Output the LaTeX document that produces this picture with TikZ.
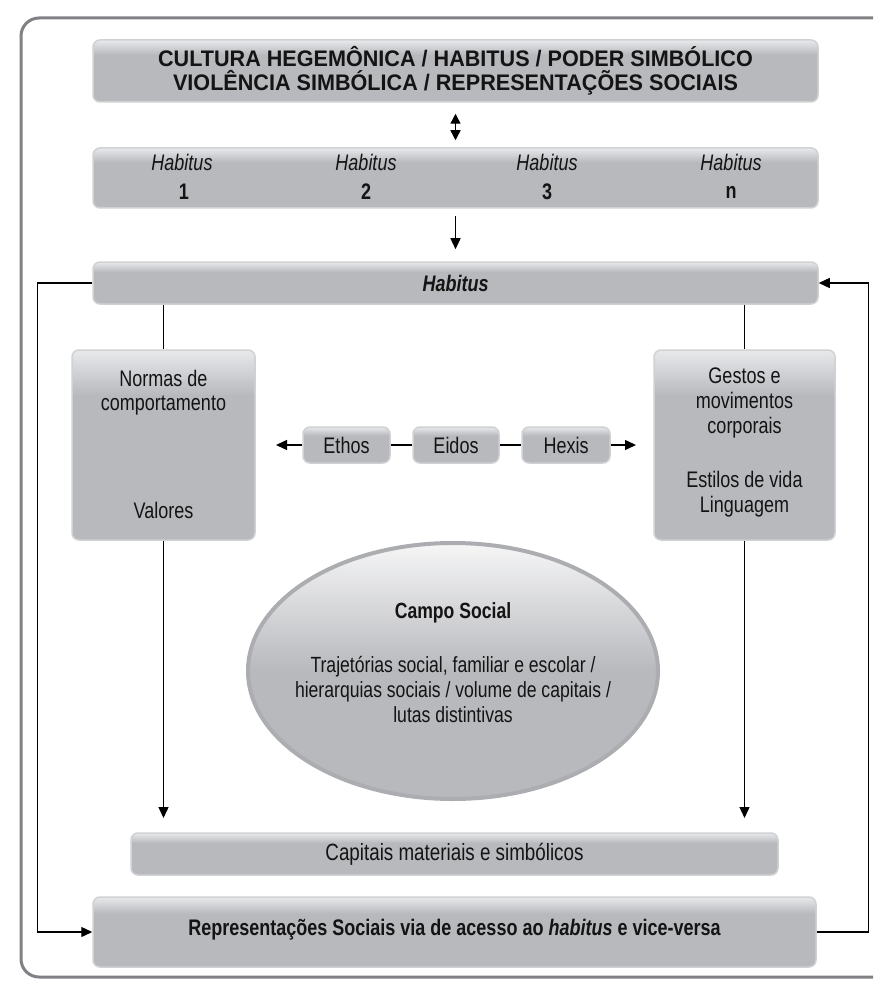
\documentclass[tikz,border=0pt]{standalone}
\usepackage{fontspec}
\setmainfont{Liberation Sans}[FakeStretch=0.8]
\newfontfamily\capsfont{Liberation Sans}[FakeStretch=0.96]
\usetikzlibrary{arrows.meta,shapes.geometric}
\definecolor{boxgray}{RGB}{184,185,189}
\definecolor{boxtop}{RGB}{232,233,235}
\definecolor{boxline}{RGB}{208,209,211}
\definecolor{framegray}{RGB}{128,129,133}
\definecolor{ellline}{RGB}{172,173,177}
\definecolor{elltop}{RGB}{246,246,247}
\definecolor{txt}{RGB}{20,20,20}
\pgfdeclareverticalshading{boxshade}{100bp}{color(0bp)=(boxgray); color(25bp)=(boxgray); color(63bp)=(boxgray); color(75bp)=(boxtop); color(100bp)=(boxtop)}
\pgfdeclareverticalshading{ellshade}{100bp}{color(0bp)=(boxgray); color(25bp)=(boxgray); color(50bp)=(boxgray); color(75bp)=(elltop); color(100bp)=(elltop)}
\begin{document}
\begin{tikzpicture}[x=1pt,y=-1pt,
  box/.style={draw=boxline, line width=1.5pt, rounded corners=7pt, shading=boxshade, inner sep=0pt},
  lbl/.style={text=txt, align=center, inner sep=0pt, font=\fontsize{22.5}{24}\selectfont},
  arr/.style={line width=1.4pt, -{Triangle[length=11pt,width=10pt]}},
  dbl/.style={line width=1.4pt, {Triangle[length=10pt,width=10pt]}-{Triangle[length=10pt,width=10pt]}},
  ln/.style={line width=1.2pt}]
\clip (0,0) rectangle (873,984);
\fill[white] (0,0) rectangle (873,984);
\draw[framegray, line width=3pt, rounded corners=18pt] (21,18) rectangle (920,977);

% boxes
\node[box, minimum width=725pt, minimum height=62pt] (top) at (455.5,71) {};
\node[lbl, font=\capsfont\bfseries\fontsize{22.5}{24}\selectfont] (toptxt) at (455.5,71) {CULTURA HEGEMÔNICA / HABITUS / PODER SIMBÓLICO\\VIOLÊNCIA SIMBÓLICA / REPRESENTAÇÕES SOCIAIS};

\node[box, minimum width=725pt, minimum height=60pt] (row) at (455.5,178) {};
\node[lbl, font=\itshape\fontsize{22.5}{24}\selectfont] (h1) at (182,162) {Habitus};
\node[lbl, font=\itshape\fontsize{22.5}{24}\selectfont] (h2) at (366,162) {Habitus};
\node[lbl, font=\itshape\fontsize{22.5}{24}\selectfont] (h3) at (547,162) {Habitus};
\node[lbl, font=\itshape\fontsize{22.5}{24}\selectfont] (h4) at (731,162) {Habitus};
\node[lbl, font=\bfseries\fontsize{22.5}{24}\selectfont] (n1) at (184,192) {1};
\node[lbl, font=\bfseries\fontsize{22.5}{24}\selectfont] (n2) at (366,192) {2};
\node[lbl, font=\bfseries\fontsize{22.5}{24}\selectfont] (n3) at (547,192) {3};
\node[lbl, font=\bfseries\fontsize{22.5}{24}\selectfont] (n4) at (731,192) {n};

\node[box, minimum width=725pt, minimum height=42pt] (hab) at (455.5,283) {};
\node[lbl, font=\bfseries\itshape\fontsize{22.5}{24}\selectfont] (habtxt) at (455.5,283) {Habitus};

\node[box, minimum width=183pt, minimum height=190pt] (left) at (163.5,445) {};
\node[lbl] (normas) at (163.5,393) {Normas de\\comportamento};
\node[lbl] (valores) at (163.5,510) {Valores};

\node[box, minimum width=181pt, minimum height=190pt] (right) at (744.5,445) {};
\node[lbl, font=\fontsize{22.5}{25}\selectfont] (gestos) at (744.5,403) {Gestos e\\movimentos\\corporais};
\node[lbl, font=\fontsize{22.5}{25}\selectfont] (estilos) at (744.5,494) {Estilos de vida\\Linguagem};

\node[box, minimum width=87pt, minimum height=36pt] (ethos) at (346.5,445) {};
\node[lbl] (ethostxt) at (346.5,445) {Ethos};
\node[box, minimum width=86pt, minimum height=36pt] (eidos) at (456,445) {};
\node[lbl] (eidostxt) at (456,445) {Eidos};
\node[box, minimum width=88pt, minimum height=36pt] (hexis) at (566,445) {};
\node[lbl] (hexistxt) at (566,445) {Hexis};

\node[ellipse, draw=ellline, line width=4pt, shading=ellshade, minimum width=410pt, minimum height=256pt, inner sep=0pt] (campo) at (453,671) {};
\node[lbl, font=\bfseries\fontsize{22}{25}\selectfont] (campot) at (453,613) {Campo Social};
\node[lbl, font=\fontsize{22}{25}\selectfont] (campob) at (453,689) {Trajetórias social, familiar e escolar /\\hierarquias sociais / volume de capitais /\\lutas distintivas};

\node[box, minimum width=647pt, minimum height=42pt] (cap) at (454.5,854) {};
\node[lbl, font=\fontsize{23.5}{24}\selectfont] (captxt) at (454.5,854) {Capitais materiais e simbólicos};

\node[box, minimum width=723pt, minimum height=70pt] (rep) at (454.5,932) {};
\node[lbl, font=\bfseries\fontsize{22.5}{24}\selectfont] (reptxt) at (454.5,930) {Representações Sociais via de acesso ao \textit{habitus} e vice-versa};

% connectors
\draw[dbl] ([yshift=-11pt]top.south) -- ([yshift=7pt]row.north);
\draw[arr] ([yshift=-7pt]row.south) -- ([yshift=12pt]hab.north);

\draw[arr] (hab.west) -- ++(-55,0) |- (rep.west);
\draw[arr] (rep.east) -- ++(52,0) |- (hab.east);

\draw[ln] (left.north |- hab.south) -- (left.north);
\draw[ln] (right.north |- hab.south) -- (right.north);

\coordinate (lend) at (163.5,818);
\coordinate (rend) at (744.5,818);
\draw[arr] (left.south) -- (lend);
\draw[arr] (right.south) -- (rend);

\draw[ln] (ethos.east) -- (eidos.west);
\draw[ln] (eidos.east) -- (hexis.west);
\coordinate (eend) at (276,445);
\coordinate (hend) at (636,445);
\draw[arr] (ethos.west) -- (eend);
\draw[arr] (hexis.east) -- (hend);
\end{tikzpicture}
\end{document}
